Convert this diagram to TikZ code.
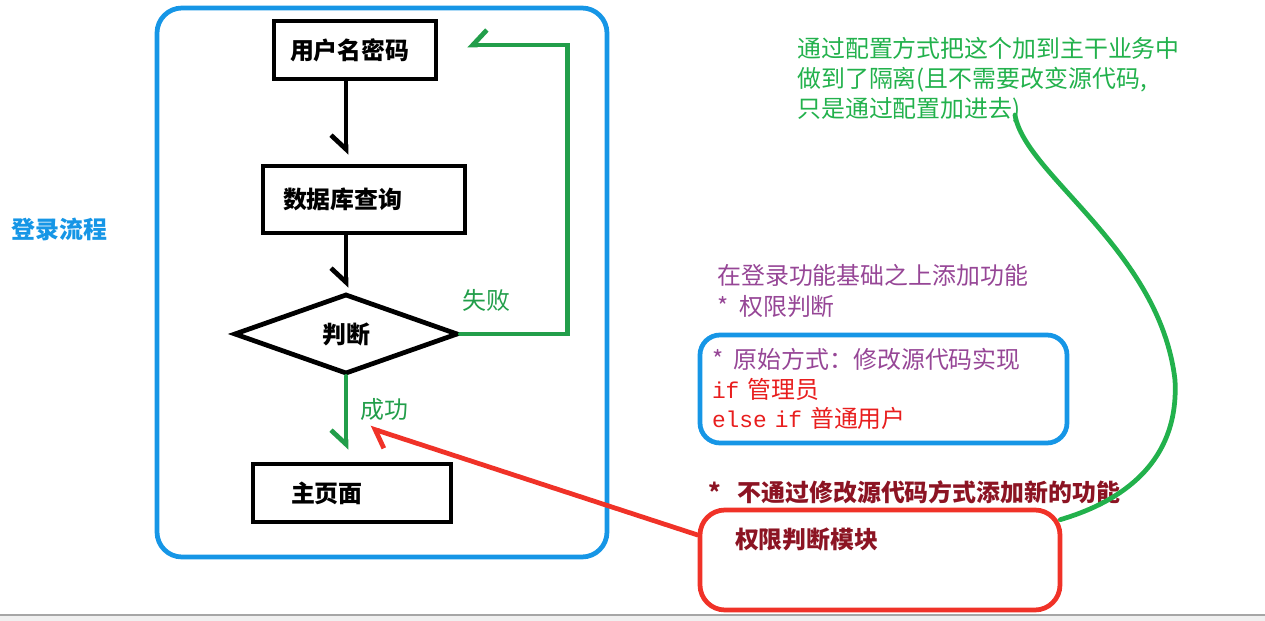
\documentclass[tikz,border=0pt]{standalone}
\usepackage{fontspec}
\setmainfont{Noto Sans CJK SC}
\newfontfamily\codefont{Liberation Mono}
\usetikzlibrary{shapes,arrows.meta,positioning}
\definecolor{frameblue}{RGB}{22,150,230}
\definecolor{flowgreen}{RGB}{34,158,74}
\definecolor{notegreen}{RGB}{34,177,76}
\definecolor{notepurple}{RGB}{150,70,150}
\definecolor{codered}{RGB}{232,30,30}
\definecolor{boxred}{RGB}{240,50,40}
\definecolor{darkred}{RGB}{140,20,35}

\begin{document}
\begin{tikzpicture}[every node/.style={font=\fontsize{13.6}{17}\selectfont}]
\tikzstyle{box} = [rectangle, draw, line width=2.7pt, align=left, minimum height=1.16cm, font=\fontsize{13.6}{17}\selectfont\bfseries]
\tikzstyle{decision} = [diamond, draw, line width=2.7pt, minimum width=4.48cm, minimum height=1.6cm, inner sep=0pt, font=\fontsize{13.6}{17}\selectfont\bfseries]
\tikzstyle{frame} = [rectangle, draw=frameblue, line width=2.7pt, rounded corners=0.5cm, minimum width=9cm, minimum height=10.98cm]
\tikzstyle{codebox} = [rectangle, draw=frameblue, line width=2.7pt, rounded corners=0.4cm, align=left, text width=6.86cm, inner xsep=0.24cm, minimum height=2.16cm]
\tikzstyle{modbox} = [rectangle, draw=boxred, line width=2.7pt, rounded corners=0.5cm, align=left, text width=5.8cm, inner xsep=0.7cm, inner ysep=0.28cm, text height=0.5cm, text depth=0.94cm, text=darkred, font=\fontsize{13.6}{17}\selectfont\bfseries]
\tikzstyle{arrow} = [line width=2.7pt, line cap=round, line join=round, -{Straight Barb[right,length=0.28cm,width=0.6cm]}]
\tikzstyle{arrowl} = [line width=2.7pt, line cap=round, line join=round, -{Straight Barb[left,length=0.28cm,width=0.6cm]}]

\useasboundingbox (0,0) rectangle (25.3,-12.42);
\fill[gray!12] (0,-12.3) rectangle (25.3,-12.42);
\draw[gray!70, line width=0.6pt] (0,-12.3) -- (25.3,-12.3);

% login flow
\node [frame] (frame) at (7.64,-5.65) {};
\node [text=frameblue, font=\fontsize{13.6}{17}\selectfont\bfseries] (title) at (1.19,-4.58) {登录流程};
\node [box, text width=2.6cm, inner xsep=0.32cm] (user) at (7.10,-1.00) {用户名密码};
\node [box, below of=user, node distance=2.99cm, xshift=0.18cm, text width=3.24cm, inner xsep=0.4cm, minimum height=1.34cm] (db) {数据库查询};
\node [decision, below of=db, node distance=2.69cm, xshift=-0.36cm] (dia) {判断};
\node [box, below of=dia, node distance=3.18cm, xshift=0.12cm, text width=2.44cm, inner xsep=0.76cm] (home) {主页面};
\node [text=flowgreen] (fail) at (9.72,-6.0) {失败};
\node [text=flowgreen] (ok) at (7.68,-8.2) {成功};
\coordinate (hook) at (7.40,-8.56);

\draw [arrow, shorten >=0.18cm] (user.south -| dia.center) -- (db.north -| dia.center);
\draw [arrow, shorten >=0.08cm] (db.south -| dia.center) -- (dia.north);
\draw [arrow, draw=flowgreen, shorten >=0.24cm] (dia.south) -- (home.north -| dia.south);
\draw [arrow, draw=flowgreen, shorten >=0.58cm, line join=miter] (dia.east) -- ++(2.14,0) |- ([yshift=0.1cm]user.east);

% notes on the right
\node [text=notegreen, align=left, anchor=north west, inner sep=0pt] (note) at (15.94,-0.74) {通过配置方式把这个加到主干业务中\\做到了隔离(且不需要改变源代码,\\只是通过配置加进去)};
\coordinate (noteend) at (20.3,-2.3);
\node [text=notepurple, align=left, anchor=north west, inner sep=0pt] (plan) at (14.34,-5.28) {在登录功能基础之上添加功能\\[0.5pt]*\hspace{0.45em}权限判断};
\node [codebox] (code) at (17.67,-7.78) {{\color{notepurple}*\hspace{0.45em}原始方式：修改源代码实现}\\
{\color{codered}{\codefont\fontsize{13}{17}\selectfont if }管理员}\\
{\color{codered}{\codefont\fontsize{13}{17}\selectfont else if }普通用户}};
\node [text=darkred, anchor=west, inner sep=0pt, font=\fontsize{13.6}{17}\selectfont\bfseries] (rule) at (14.16,-9.84) {*\hspace{0.7em}不通过修改源代码方式添加新的功能};
\node [modbox] (mod) at (17.6,-11.2) {权限判断模块};

\draw [arrowl, draw=boxred] ([yshift=0.5cm]mod.west) -- (hook);
\draw [notegreen, line width=2.7pt, line cap=round] (noteend) .. controls (20.5,-3.5) and (23.2,-5.0) .. (23.5,-7.6) .. controls (23.6,-9.4) and (22.2,-10.1) .. ([xshift=-0.04cm,yshift=-0.24cm]mod.north east);
\end{tikzpicture}
\end{document}
